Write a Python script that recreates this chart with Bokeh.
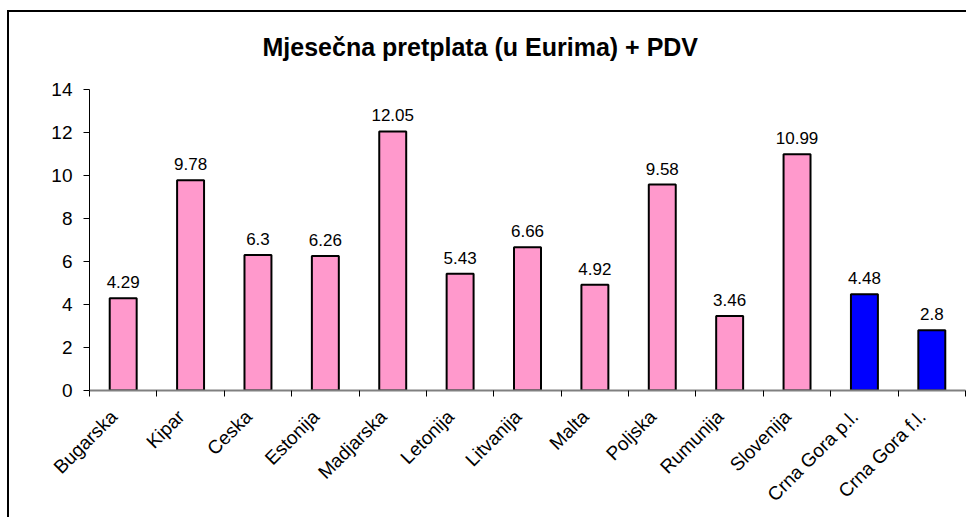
import math
from bokeh.plotting import figure
from bokeh.models import Range1d, FixedTicker, ColumnDataSource
from bokeh.core.properties import value
from bokeh.embed import file_html
from bokeh.resources import INLINE

categories = ["Bugarska", "Kipar", "Ceska", "Estonija", "Madjarska", "Letonija",
              "Litvanija", "Malta", "Poljska", "Rumunija", "Slovenija",
              "Crna Gora p.l.", "Crna Gora f.l."]
values = [4.29, 9.78, 6.3, 6.26, 12.05, 5.43, 6.66, 4.92, 9.58, 3.46, 10.99, 4.48, 2.8]
groups = ["eu"] * 11 + ["cg", "cg"]
colors_by_group = {"eu": "#FF99CC", "cg": "#0000FF"}
y_ticks = [0, 2, 4, 6, 8, 10, 12, 14]

n = len(categories)
xs = [i + 0.5 for i in range(n)]
LABEL_SHIFT = -0.14   # category labels sit slightly left of the bar centres
label_pos = [x + LABEL_SHIFT for x in xs]
src = ColumnDataSource(dict(
    x=xs, top=values, name=categories,
    color=[colors_by_group[g] for g in groups],
    label=[str(v) for v in values],
))

FONT = "Liberation Sans"
W, H = 966, 517

p = figure(width=W, height=H, output_backend="svg", toolbar_location=None,
           x_range=Range1d(0, n), y_range=Range1d(0, 14),
           min_border_left=89, min_border_right=W - 965,
           min_border_top=89, min_border_bottom=H - 390,
           background_fill_color="white", border_fill_alpha=0,
           outline_line_color=None)
# outer chart frame: only its left and top edges lie inside the picture
p.styles = {"background": "linear-gradient(#000,#000) 7px 10px / 2px 100% no-repeat, "
                          "linear-gradient(#000,#000) 7px 10px / 100% 2px no-repeat"}

p.title.text = "Mjesečna pretplata (u Eurima) + PDV"
p.title.text_font = FONT
p.title.text_font_style = "bold"
p.title.text_font_size = "25px"
p.title.text_color = "black"
p.title.align = "left"
p.title.offset = 173
p.title.standoff = 57

p.xgrid.visible = False
p.ygrid.visible = False

p.vbar(x="x", top="top", width=0.4, bottom=0, source=src,
       fill_color="color", line_color="black", line_width=2)

p.text(x="x", y="top", text="label", source=src, text_align="center",
       text_baseline="alphabetic", y_offset=-16, text_font=value(FONT),
       text_font_size="17px", text_color="black")

# y axis
yax = p.yaxis[0]
yax.ticker = FixedTicker(ticks=y_ticks)
yax.axis_line_color = "black"
yax.major_tick_line_color = "black"
yax.major_tick_in = 0
yax.major_tick_out = 6
yax.minor_tick_line_color = None
yax.major_label_text_font = FONT
yax.major_label_text_font_size = "19px"
yax.major_label_text_color = "black"
yax.major_label_standoff = 11

# x axis: labels under the bars, ticks at category boundaries
xax = p.xaxis[0]
xax.ticker = FixedTicker(ticks=label_pos, minor_ticks=list(range(n + 1)))
xax.major_label_overrides = {x: c for x, c in zip(label_pos, categories)}
xax.axis_line_color = "#808080"
xax.axis_line_width = 2
xax.major_tick_line_color = None
xax.major_tick_in = 0
xax.major_tick_out = 0
xax.minor_tick_line_color = "black"
xax.minor_tick_in = 0
xax.minor_tick_out = 6
xax.major_label_orientation = math.pi / 4
xax.major_label_text_font = FONT
xax.major_label_text_font_size = "19px"
xax.major_label_text_color = "black"
xax.major_label_standoff = 17

open("out.html", "w").write(file_html(p, INLINE))
